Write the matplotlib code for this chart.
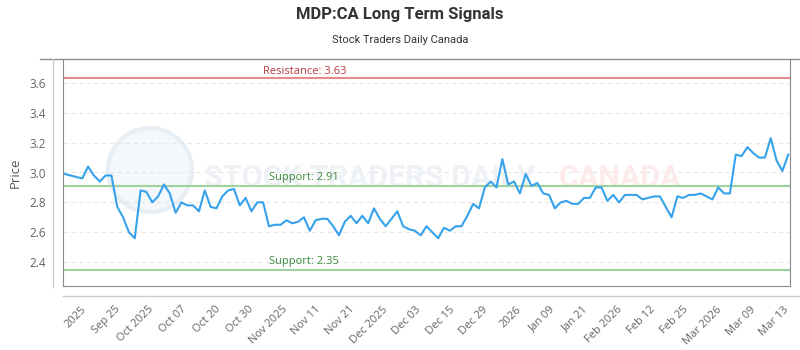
import matplotlib
matplotlib.use("Agg")
import matplotlib.pyplot as plt
import numpy as np
from matplotlib.lines import Line2D
from matplotlib.patches import Ellipse

# daily closes
prices = [
    2.99, 2.98, 2.97, 2.96, 3.04, 2.98, 2.94, 2.98, 2.98, 2.77,
    2.70, 2.60, 2.56, 2.88, 2.87, 2.80, 2.84, 2.92, 2.86, 2.73,
    2.80, 2.78, 2.78, 2.74, 2.88, 2.77, 2.76, 2.84, 2.88, 2.89,
    2.78, 2.83, 2.74, 2.80, 2.80, 2.64, 2.65, 2.65, 2.68, 2.66,
    2.67, 2.70, 2.61, 2.68, 2.69, 2.69, 2.64, 2.58, 2.67, 2.71,
    2.66, 2.71, 2.66, 2.76, 2.69, 2.64, 2.69, 2.74, 2.64, 2.62,
    2.61, 2.58, 2.64, 2.60, 2.56, 2.63, 2.61, 2.64, 2.64, 2.71,
    2.79, 2.76, 2.90, 2.94, 2.90, 3.09, 2.92, 2.94, 2.86, 2.99,
    2.91, 2.93, 2.86, 2.85, 2.76, 2.80, 2.81, 2.79, 2.79, 2.83,
    2.83, 2.90, 2.90, 2.81, 2.85, 2.80, 2.85, 2.85, 2.85, 2.82,
    2.83, 2.84, 2.84, 2.77, 2.70, 2.84, 2.83, 2.85, 2.85, 2.86,
    2.84, 2.82, 2.90, 2.86, 2.86, 3.12, 3.11, 3.17, 3.13, 3.10,
    3.10, 3.23, 3.08, 3.01, 3.12,
]

tick_labels = ["2025", "Sep 25", "Oct 2025", "Oct 07", "Oct 20", "Oct 30",
               "Nov 2025", "Nov 11", "Nov 21", "Dec 2025", "Dec 03", "Dec 15",
               "Dec 29", "2026", "Jan 09", "Jan 21", "Feb 2026", "Feb 12",
               "Feb 25", "Mar 2026", "Mar 09", "Mar 13"]

resistance = 3.63
supports = [2.91, 2.35]

plt.rcParams['font.family'] = ['Open Sans', 'DejaVu Sans']

fig = plt.figure(figsize=(8, 3.5), dpi=100)
ax = fig.add_axes([63 / 800, 1 - 286 / 350, 727 / 800, 227 / 350])

x = np.arange(len(prices))

# faint watermark behind everything
ax.add_patch(Ellipse((150 / 800, 1 - 170 / 350), 84 / 800, 84 / 350,
                     transform=fig.transFigure, facecolor="#f4f7fb",
                     edgecolor="#e8eef5", lw=3, zorder=0.5, clip_on=False))
ax.text(370 / 800, 1 - 178 / 350, "STOCK TRADERS DAILY", color="#eef2f6",
        fontsize=22, fontweight="bold", family="Roboto", ha="center", va="center",
        transform=fig.transFigure, zorder=0.6)
ax.text(620 / 800, 1 - 178 / 350, "CANADA", color="#fdebeb",
        fontsize=22, fontweight="bold", family="Roboto", ha="center", va="center",
        transform=fig.transFigure, zorder=0.6)

ax.plot(x, prices, color="#36a2eb", lw=1.5, zorder=3)

ax.axhline(resistance, color="#e58a8a", lw=1.5, zorder=2)
ax.annotate(f"Resistance: {resistance:.2f}", (34, resistance), xytext=(0, 1),
            textcoords="offset points", color="#b83a3a", fontsize=8,
            ha="left", va="bottom", zorder=4)
for s in supports:
    ax.axhline(s, color="#9ed39e", lw=1.5, zorder=2)
    ax.annotate(f"Support: {s:.2f}", (35, s), xytext=(0, 2),
                textcoords="offset points", color="#3a8a3a", fontsize=8,
                ha="left", va="bottom", zorder=4)

ax.set_xlim(-0.3, len(prices) - 1 + 0.3)
ax.set_ylim(2.24, 3.76)
ax.set_yticks(np.arange(2.4, 3.61, 0.2))
ax.set_yticklabels([f"{v:.1f}" for v in np.arange(2.4, 3.61, 0.2)])
ax.yaxis.grid(True, color="#e6e6e6", ls=(0, (4, 3)), lw=0.8, zorder=1)
ax.set_axisbelow(True)

ax.set_xticks(np.linspace(2.8, 123.2, len(tick_labels)))
ax.set_xticklabels(tick_labels, rotation=45, ha="right", va="top",
                   rotation_mode="anchor")
ax.tick_params(axis="x", length=0, pad=13, labelsize=8, labelcolor="#666666")
ax.tick_params(axis="y", length=0, pad=12, labelsize=8.5, labelcolor="#666666")
ax.set_ylabel("Price", fontsize=9.5, color="#555555", labelpad=6)

for side in ["left", "bottom", "right"]:
    ax.spines[side].set_color("#8a8a8a")
ax.spines["top"].set_visible(False)

# outer frame lines
fig.add_artist(Line2D([40 / 800, 1], [1 - 59 / 350] * 2, color="#8a8a8a", lw=1))
fig.add_artist(Line2D([53 / 800] * 2, [1 - 59 / 350, 1 - 287 / 350], color="#cccccc", lw=1))
fig.add_artist(Line2D([63 / 800, 1], [1 - 296 / 350] * 2, color="#cccccc", lw=1))

fig.text(0.5, 1 - 15 / 350, "MDP:CA Long Term Signals", ha="center", va="center",
         fontsize=12, fontweight="bold", color="#333333", family="Roboto")
fig.text(0.5, 1 - 40 / 350, "Stock Traders Daily Canada", ha="center", va="center",
         fontsize=8, color="#333333", family="Roboto")

fig.savefig("out.png", dpi=100)
